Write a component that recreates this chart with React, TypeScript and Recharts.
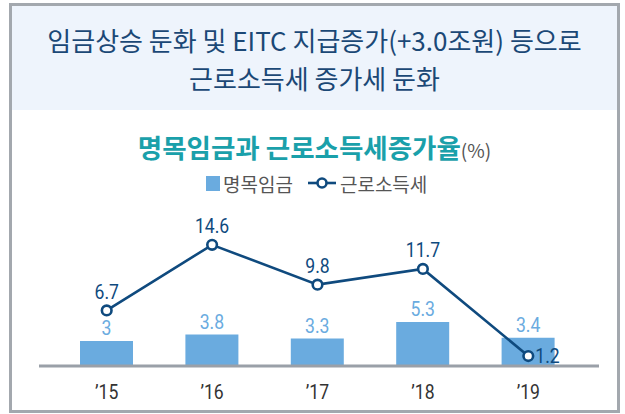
import React from "react";
import { ComposedChart, Bar, Line, XAxis, YAxis, LabelList } from "recharts";

const categories = ["’15", "’16", "’17", "’18", "’19"];
const wageValues = [3, 3.8, 3.3, 5.3, 3.4];
const taxValues = [6.7, 14.6, 9.8, 11.7, 1.2];
const headlineLines = ["임금상승 둔화 및 EITC 지급증가(+3.0조원) 등으로", "근로소득세 증가세 둔화"];
const chartTitle = "명목임금과 근로소득세증가율";
const chartUnit = "(%)";
const seriesNames = ["명목임금", "근로소득세"];

const data = categories.map((c, i) => ({ year: c, wage: wageValues[i], tax: taxValues[i] }));

const CJK = "'Noto Sans CJK KR', 'Noto Sans', sans-serif";
const NUM = "Roboto, 'Liberation Sans', sans-serif";
const NAVY = "#0f4a7e";
const BAR = "#6aabdf";

const Narrow = ({ x, y, anchor, fill, size, children }: any) => (
  <g transform={`translate(${x},${y}) scale(0.88,1)`}>
    <text x={0} y={0} dy="0.36em" textAnchor={anchor} fontFamily={NUM} fontSize={size} fill={fill}>
      {children}
    </text>
  </g>
);

const XTick = (props: any) => {
  const { x, y, payload } = props;
  return (
    <Narrow x={x} y={y} anchor="middle" fill="#333" size={20}>
      {payload.value}
    </Narrow>
  );
};

const BarLabel = (props: any) => {
  const { x, y, width, value } = props;
  return (
    <Narrow x={x + width / 2} y={y - 13} anchor="middle" fill={BAR} size={20}>
      {value}
    </Narrow>
  );
};

const LineLabel = (props: any) => {
  const { x, y, value, index } = props;
  if (index === taxValues.length - 1) {
    return (
      <Narrow x={x + 7} y={y} anchor="start" fill={NAVY} size={20}>
        {value}
      </Narrow>
    );
  }
  return (
    <Narrow x={x} y={y - 19} anchor="middle" fill={NAVY} size={20}>
      {value}
    </Narrow>
  );
};

export default function App() {
  return (
    <div style={{ position: "absolute", left: 0, top: 0, width: 625, height: 414, background: "#fff", overflow: "hidden" }}>
      <div
        style={{
          position: "absolute",
          left: 9,
          top: 3,
          width: 611,
          height: 410,
          boxSizing: "border-box",
          border: "3px solid #a3a8ae",
        }}
      />
      <div style={{ position: "absolute", left: 12, top: 6, width: 605, height: 104, background: "#eef4fc" }} />
      {headlineLines.map((t, i) => (
        <div
          key={i}
          style={{
            position: "absolute",
            left: 12,
            width: 605,
            top: 40 + i * 38 - 18,
            height: 36,
            lineHeight: "36px",
            textAlign: "center",
            fontFamily: CJK,
            fontSize: 26,
            color: "#1b4876",
            whiteSpace: "nowrap",
          }}
        >
          {t}
        </div>
      ))}
      <div
        style={{
          position: "absolute",
          left: 12,
          width: 605,
          top: 147 - 18,
          height: 36,
          lineHeight: "36px",
          textAlign: "center",
          fontFamily: CJK,
          whiteSpace: "nowrap",
        }}
      >
        <span style={{ fontSize: 26.5, fontWeight: 700, color: "#1aa0aa" }}>{chartTitle}</span>
        <span style={{ fontSize: 19, color: "#555" }}>{chartUnit}</span>
      </div>
      <div
        style={{
          position: "absolute",
          left: 206,
          top: 171,
          height: 24,
          display: "flex",
          alignItems: "center",
          fontFamily: CJK,
          fontSize: 19,
          color: "#555",
          whiteSpace: "nowrap",
        }}
      >
        <span style={{ display: "inline-block", width: 14, height: 15, background: BAR, marginRight: 3 }} />
        <span>{seriesNames[0]}</span>
        <svg width={28} height={14} style={{ marginLeft: 15, marginRight: 4 }}>
          <line x1={0} y1={7} x2={28} y2={7} stroke={NAVY} strokeWidth={2.6} />
          <circle cx={14} cy={7} r={4.5} fill="#fff" stroke={NAVY} strokeWidth={2.6} />
        </svg>
        <span>{seriesNames[1]}</span>
      </div>
      <div style={{ position: "absolute", left: 0, top: 0 }}>
        <ComposedChart
          width={625}
          height={414}
          data={data}
          margin={{ top: 216.6, right: 26, bottom: 18, left: 39 }}
          barCategoryGap={0}
        >
          <XAxis
            dataKey="year"
            axisLine={{ stroke: "#9aa0a8", strokeWidth: 3 }}
            tickLine={false}
            tickSize={0}
            tickMargin={26}
            height={30}
            padding={{ left: 15, right: 18 }}
            tick={<XTick />}
            interval={0}
          />
          <YAxis hide domain={[0, 18]} />
          <Bar dataKey="wage" name={seriesNames[0]} fill={BAR} barSize={53} isAnimationActive={false}>
            <LabelList dataKey="wage" content={<BarLabel />} />
          </Bar>
          <Line
            dataKey="tax"
            name={seriesNames[1]}
            type="linear"
            stroke={NAVY}
            strokeWidth={2.6}
            dot={{ r: 4.8, fill: "#fff", stroke: NAVY, strokeWidth: 2.6 }}
            activeDot={false}
            isAnimationActive={false}
          >
            <LabelList dataKey="tax" content={<LineLabel />} />
          </Line>
        </ComposedChart>
      </div>
    </div>
  );
}
